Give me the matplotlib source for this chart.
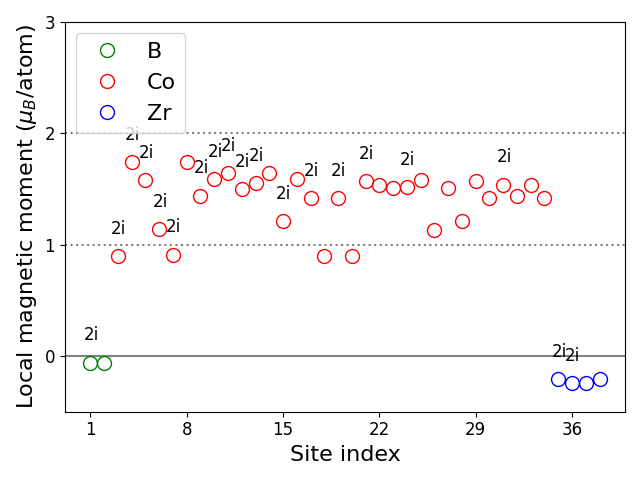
import numpy as np
import matplotlib.pyplot as plt

# site indices and local moments (mu_B/atom)
b_sites = [1, 2]
b_moments = [-0.06, -0.06]

co_sites = list(range(3, 35))
co_moments = [0.90, 1.74, 1.58, 1.14, 0.91, 1.74, 1.44, 1.59, 1.64, 1.50,
              1.55, 1.64, 1.21, 1.59, 1.42, 0.90, 1.42, 0.90, 1.57, 1.54,
              1.51, 1.52, 1.58, 1.13, 1.51, 1.21, 1.57, 1.42, 1.54, 1.44,
              1.54, 1.42]

zr_sites = [35, 36, 37, 38]
zr_moments = [-0.21, -0.24, -0.24, -0.21]

# sites carrying the "2i" Wyckoff label
labelled_sites = [1, 3, 4, 5, 6, 7, 9, 10, 11, 12, 13, 15, 17, 19, 21, 24, 31, 35, 36]

all_sites = b_sites + co_sites + zr_sites
all_moments = b_moments + co_moments + zr_moments
moment_of = dict(zip(all_sites, all_moments))

fig, ax = plt.subplots(figsize=(6.4, 4.8), dpi=100)

ax.axhline(0, color="gray", lw=1.5)
ax.axhline(1, color="gray", ls=":", lw=1.5)
ax.axhline(2, color="gray", ls=":", lw=1.5)

for sites, moms, col, name in [(b_sites, b_moments, "green", "B"),
                               (co_sites, co_moments, "red", "Co"),
                               (zr_sites, zr_moments, "blue", "Zr")]:
    ax.plot(sites, moms, "o", mfc="none", mec=col, ms=10, mew=1, label=name)

for s in labelled_sites:
    ax.text(s - 0.5, moment_of[s] + 0.2, "2i", fontsize=12)

ax.set_ylim(-0.5, 3)
ax.set_xticks([1, 8, 15, 22, 29, 36])
ax.set_yticks([0, 1, 2, 3])
ax.tick_params(labelsize=12)
ax.set_xlabel("Site index", fontsize=16)
ax.set_ylabel(r"Local magnetic moment ($\mu_B$/atom)", fontsize=16)
ax.legend(loc="upper left", fontsize=16)

plt.tight_layout()
plt.savefig("out.png", dpi=100)
plt.close(fig)
